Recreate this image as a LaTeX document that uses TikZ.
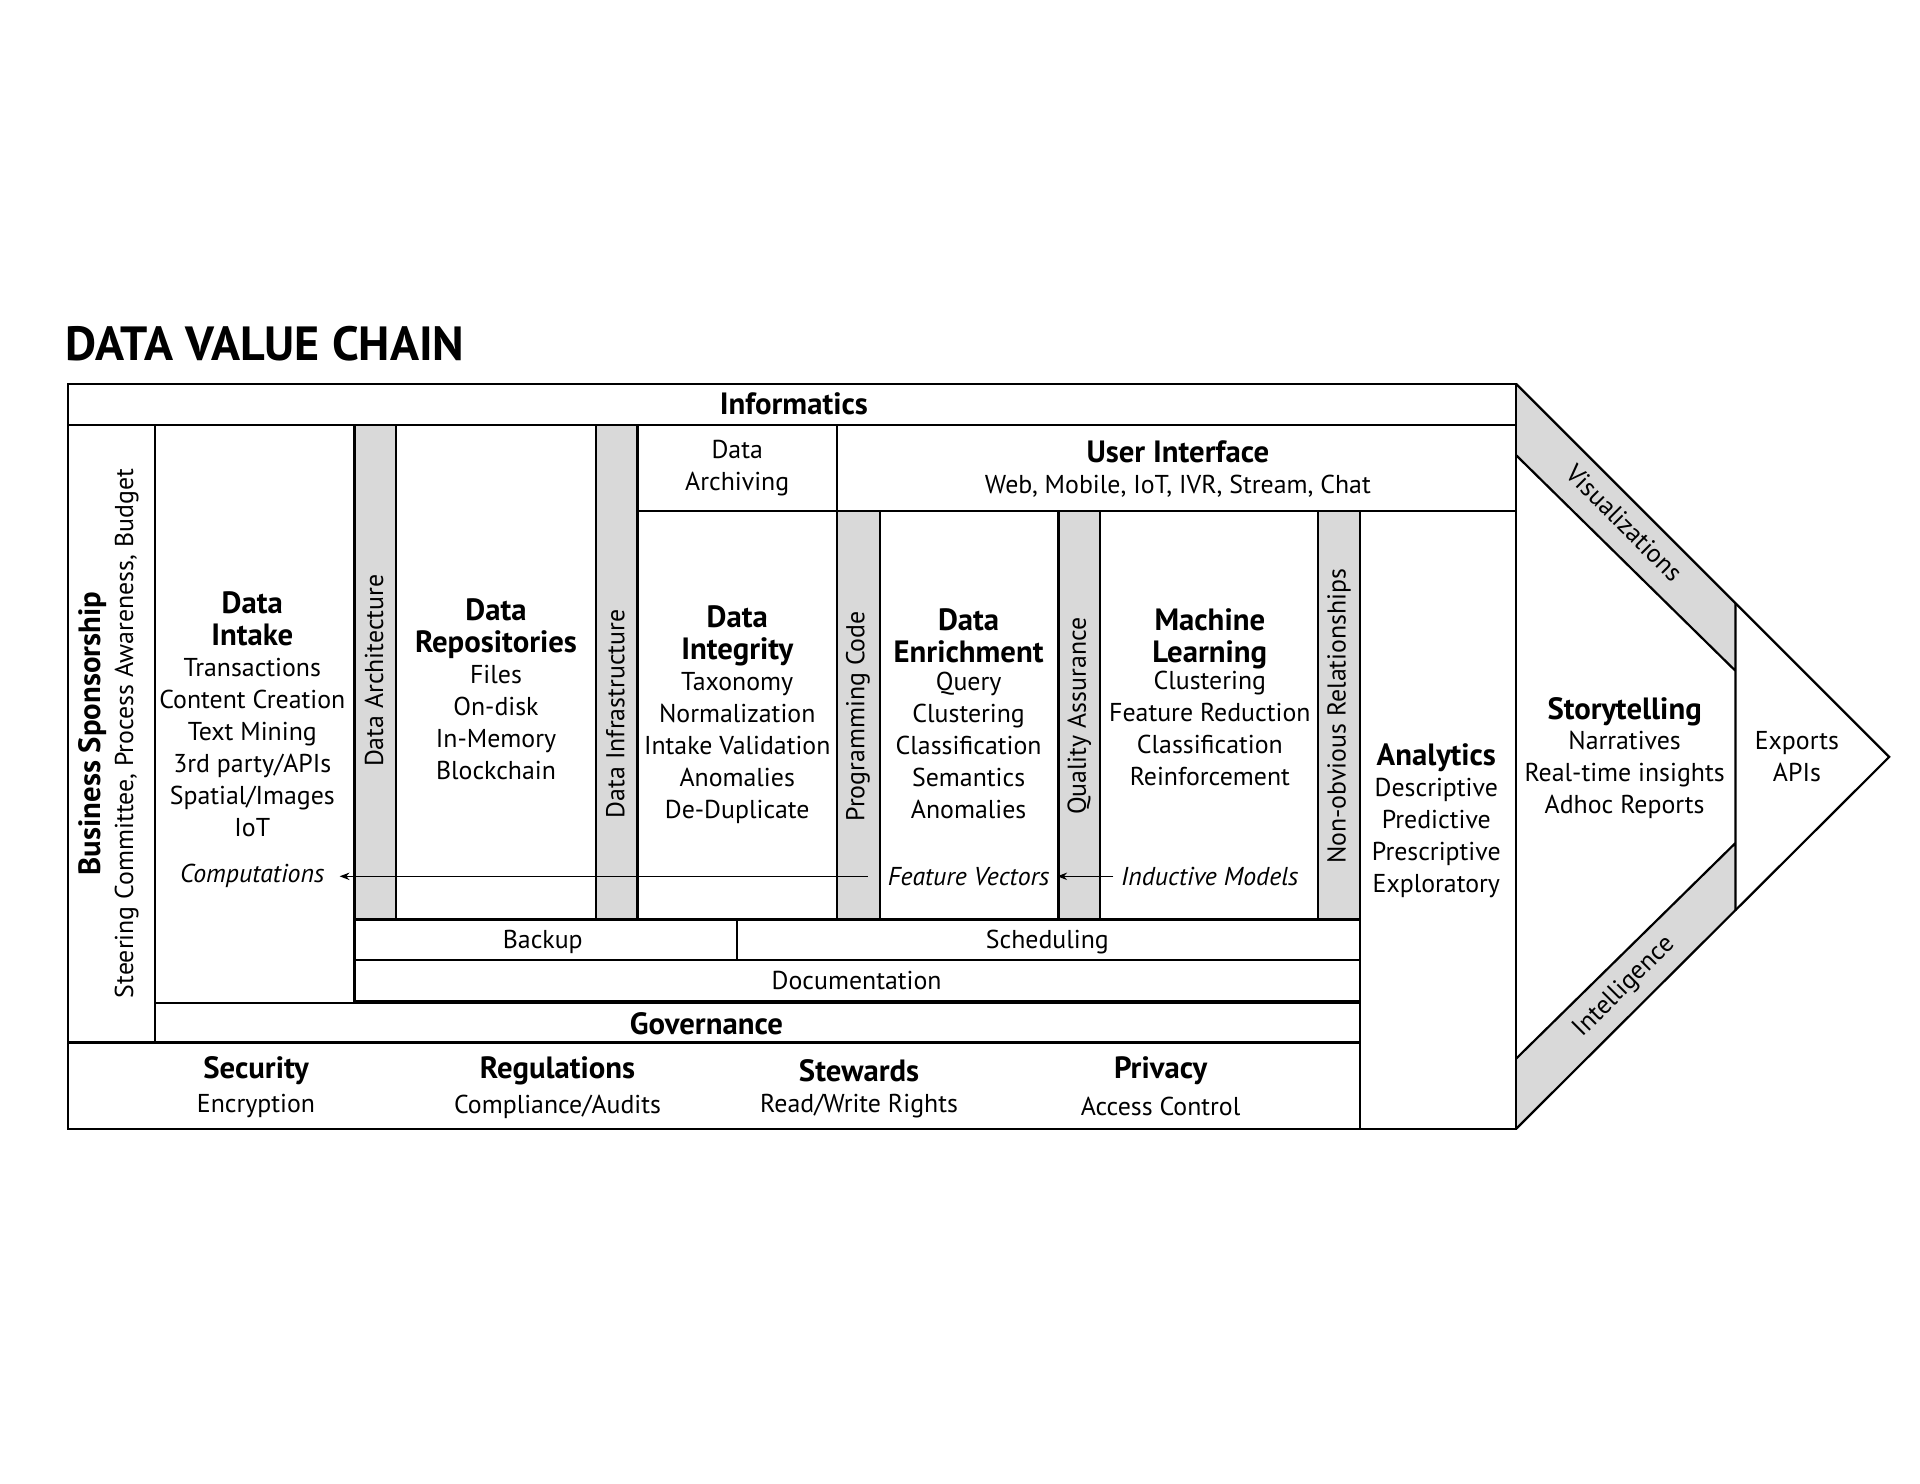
\documentclass[tikz,border=0pt]{standalone}
\usepackage{fontspec}
\setmainfont{PT Sans}
\usetikzlibrary{arrows.meta}
\begin{document}
\begin{tikzpicture}[x=0.5pt,y=-0.5pt,
  box/.style={draw=black,line width=0.9pt},
  strip/.style={draw=black,line width=0.9pt,fill=black!15},
  hd/.style={font=\fontsize{12.5}{13}\selectfont\bfseries,align=center,inner sep=0pt},
  tx/.style={font=\fontsize{10.5}{13}\selectfont,align=center,inner sep=0pt},
  it/.style={font=\fontsize{10.5}{13}\selectfont\itshape,inner sep=0pt},
  arr/.style={-{Stealth[length=4pt,width=3pt]},line width=0.6pt}]
\useasboundingbox (0,0) rectangle (1560,1205);
\node[anchor=west,font=\fontsize{19.5}{21}\selectfont\bfseries,inner sep=0pt] (title) at (53,279) {DATA VALUE CHAIN};
% arrow head part
\fill[black!15] (1232,312)--(1410,490)--(1410,545)--(1232,370)--cycle;
\fill[black!15] (1232,860)--(1410,685)--(1410,740)--(1232,917)--cycle;
\draw[line width=0.9pt] (1232,312)--(1535,615)--(1232,917);
\draw[line width=0.9pt] (1232,370)--(1410,545) (1232,860)--(1410,685) (1410,490)--(1410,740);
% boxes
\draw[box] (55,312) rectangle (1232,917);
\draw[box] (55,345)--(1232,345);
\draw[box] (126,345)--(126,847) (55,847)--(1105,847) (126,815)--(1105,815);
\draw[box] (1105,415)--(1105,917) (518,415)--(1232,415) (680,345)--(680,415);
\draw[box] (288,345)--(288,815);
\draw[strip] (288,345) rectangle (322,747);
\draw[strip] (484,345) rectangle (518,747);
\draw[strip] (680,415) rectangle (715,747);
\draw[strip] (860,415) rectangle (894,747);
\draw[strip] (1071,415) rectangle (1105,747);
\draw[box] (288,747)--(1105,747) (288,780)--(1105,780) (599,747)--(599,780) (288,813)--(1105,813);
% texts
\node[hd] (inf) at (645,328) {Informatics};
\node[hd] (gov) at (574,832) {Governance};
\node[hd,rotate=90] (bs) at (75,596) {Business Sponsorship};
\node[tx,rotate=90] (bs2) at (103,596) {Steering Committee, Process Awareness, Budget};
\node[hd,anchor=north] (di) at (205,480) {Data\\Intake};
\node[tx,anchor=north] (di2) at (205,534) {Transactions\\Content Creation\\Text Mining\\3rd party/APIs\\Spatial/Images\\IoT};
\node[it] (comp) at (205,712) {Computations};
\node[hd,anchor=north] (dr) at (403,486) {Data\\Repositories};
\node[tx,anchor=north] (dr2) at (403,540) {Files\\On-disk\\In-Memory\\Blockchain};
\node[tx] (arch) at (599,380) {Data\\Archiving};
\node[hd] (ui) at (957,367) {User Interface};
\node[tx] (ui2) at (957,395) {Web, Mobile, IoT, IVR, Stream, Chat};
\node[hd,anchor=north] (dint) at (599,492) {Data\\Integrity};
\node[tx,anchor=north] (dint2) at (599,546) {Taxonomy\\Normalization\\Intake Validation\\Anomalies\\De-Duplicate};
\node[hd,anchor=north] (de) at (787,494) {Data\\Enrichment};
\node[tx,anchor=north] (de2) at (787,546) {Query\\Clustering\\Classification\\Semantics\\Anomalies};
\node[it] (fv) at (787,712) {Feature Vectors};
\node[hd,anchor=north] (ml) at (983,494) {Machine\\Learning};
\node[tx,anchor=north] (ml2) at (983,545) {Clustering\\Feature Reduction\\Classification\\Reinforcement};
\node[it] (im) at (983,712) {Inductive Models};
\node[hd,anchor=north] (an) at (1167,604) {Analytics};
\node[tx,anchor=north] (an2) at (1167,632) {Descriptive\\Predictive\\Prescriptive\\Exploratory};
\node[hd,anchor=north] (st) at (1320,566) {Storytelling};
\node[tx,anchor=north] (st2) at (1320,594) {Narratives\\Real-time insights\\Adhoc Reports};
\node[tx] (ex) at (1460,615) {Exports\\APIs};
\node[tx,rotate=90] (sa) at (304,545) {Data Architecture};
\node[tx,rotate=90] (sb) at (500,580) {Data Infrastructure};
\node[tx,rotate=90] (sc) at (697,582) {Programming Code};
\node[tx,rotate=90] (sd) at (877,582) {Quality Assurance};
\node[tx,rotate=90] (se) at (1088,582) {Non-obvious Relationships};
\node[tx,rotate=-45] (vis) at (1320,425) {Visualizations};
\node[tx,rotate=45] (intl) at (1320,802) {Intelligence};
\node[tx] (bk) at (441,765) {Backup};
\node[tx] (sch) at (851,765) {Scheduling};
\node[tx] (doc) at (696,797) {Documentation};
\node[hd] (sec) at (208,870) {Security};
\node[tx] (sec2) at (208,899) {Encryption};
\node[hd] (reg) at (453,870) {Regulations};
\node[tx] (reg2) at (453,899) {Compliance/Audits};
\node[hd] (stw) at (698,870) {Stewards};
\node[tx] (stw2) at (698,899) {Read/Write Rights};
\node[hd] (pr) at (943,870) {Privacy};
\node[tx] (pr2) at (943,899) {Access Control};
\draw[arr] (fv.west)++(-16,0) -- ([xshift=6pt]comp.east);
\draw[arr] ([xshift=-3pt]im.west) -- ([xshift=3pt]fv.east);
\end{tikzpicture}
\end{document}
